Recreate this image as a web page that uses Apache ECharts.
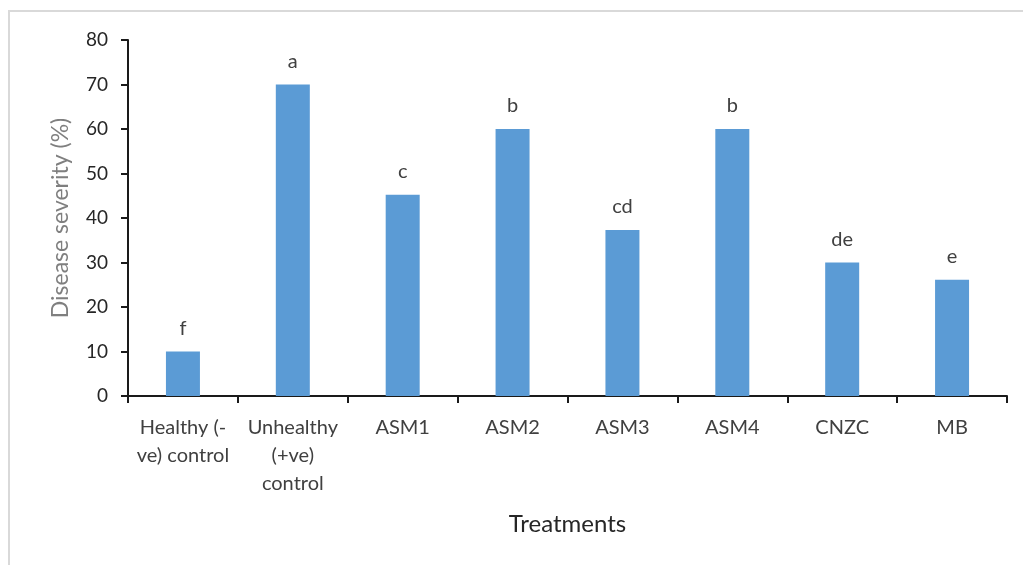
<!DOCTYPE html>
<html><head><meta charset="utf-8">
<script src="https://cdn.jsdelivr.net/npm/echarts@6/dist/echarts.min.js"></script>
<style>
html,body{margin:0;padding:0;background:#fff;}
#frame{position:absolute;left:8px;top:10px;width:1100px;height:700px;border:2px solid #d9d9d9;box-sizing:border-box;}
#c{position:absolute;left:0;top:0;width:1023px;height:565px;}
</style></head>
<body>
<div id="frame"></div>
<div id="c"></div>
<script>
const categories = ['Healthy (-\nve) control', 'Unhealthy\n(+ve)\ncontrol', 'ASM1', 'ASM2', 'ASM3', 'ASM4', 'CNZC', 'MB'];
const severity = [10, 70, 45.2, 60, 37.3, 60, 30, 26.1];
const letters = ['f', 'a', 'c', 'b', 'cd', 'b', 'de', 'e'];
const yTicks = [0, 10, 20, 30, 40, 50, 60, 70, 80];

const chart = echarts.init(document.getElementById('c'), null, {renderer: 'canvas'});
const font = 'Lato, "Liberation Sans", sans-serif';
chart.setOption({
  animation: false,
  textStyle: {fontFamily: font},
  grid: {left: 128, right: 16, top: 40, bottom: 169},
  xAxis: {
    type: 'category',
    data: categories,
    name: 'Treatments',
    nameLocation: 'middle',
    nameGap: 116,
    nameTextStyle: {fontSize: 24, color: '#262626', fontFamily: font},
    axisLine: {lineStyle: {color: '#1a1a1a', width: 2}},
    axisTick: {show: true, inside: false, length: 7, alignWithLabel: false, lineStyle: {color: '#1a1a1a', width: 2}},
    axisLabel: {fontSize: 20, color: '#404040', margin: 18, lineHeight: 28, interval: 0, fontFamily: font}
  },
  yAxis: {
    type: 'value',
    min: yTicks[0],
    max: yTicks[yTicks.length - 1],
    interval: 10,
    name: 'Disease severity (%)',
    nameLocation: 'middle',
    nameGap: 56,
    nameRotate: 90,
    nameTextStyle: {fontSize: 23, color: '#7f7f7f', fontFamily: font},
    splitLine: {show: false},
    axisLine: {show: true, lineStyle: {color: '#1a1a1a', width: 2}},
    axisTick: {show: true, length: 7, lineStyle: {color: '#1a1a1a', width: 2}},
    axisLabel: {fontSize: 19, color: '#262626', margin: 20, fontFamily: font}
  },
  series: [{
    type: 'bar',
    data: severity,
    barWidth: 34,
    itemStyle: {color: '#5b9bd5'},
    label: {
      show: true,
      position: 'top',
      distance: 13,
      fontSize: 20,
      color: '#404040',
      fontFamily: font,
      formatter: p => letters[p.dataIndex]
    }
  }]
});
</script>
</body></html>
